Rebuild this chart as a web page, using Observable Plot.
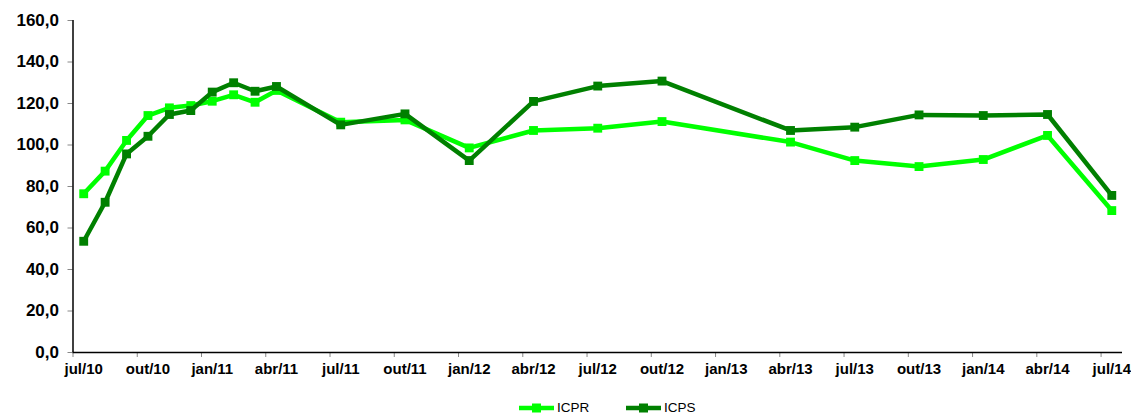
<!DOCTYPE html>
<html>
<head>
<meta charset="utf-8">
<script src="https://cdn.jsdelivr.net/npm/d3@7"></script>
<script src="https://cdn.jsdelivr.net/npm/@observablehq/plot@0.6"></script>
<style>
  html, body { margin: 0; padding: 0; background: #fff; }
  body { width: 1131px; height: 413px; overflow: hidden; font-family: "Liberation Sans", Arial, sans-serif; }
  #legend { position: relative; height: 23px; }
  #legend .item { position: absolute; top: 6px; height: 23px; display: flex; align-items: center; font-size: 13.5px; color: #000; }
</style>
</head>
<body>
<div id="chart"></div>
<div id="legend"></div>
<script>
// ---- data ----
const periods = ["2010-07","2010-08","2010-09","2010-10","2010-11","2010-12","2011-01","2011-02","2011-03","2011-04","2011-07","2011-10","2012-01","2012-04","2012-07","2012-10","2013-04","2013-07","2013-10","2014-01","2014-04","2014-07"];
const icpr = [76.5, 87.4, 102.2, 114.2, 117.9, 119.0, 121.1, 124.2, 120.6, 126.3, 111.0, 112.1, 98.6, 107.0, 108.1, 111.3, 101.4, 92.5, 89.6, 93.0, 104.6, 68.4];
const icps = [53.6, 72.4, 95.7, 104.2, 114.7, 116.6, 125.5, 130.0, 125.9, 128.2, 109.7, 115.0, 92.5, 121.0, 128.4, 130.8, 107.0, 108.6, 114.5, 114.2, 114.7, 75.7];
const xTickLabels = ["jul/10","out/10","jan/11","abr/11","jul/11","out/11","jan/12","abr/12","jul/12","out/12","jan/13","abr/13","jul/13","out/13","jan/14","abr/14","jul/14"];
const yTicks = [0, 20, 40, 60, 80, 100, 120, 140, 160];
const seriesNames = ["ICPR", "ICPS"];
const seriesColors = ["#00FF00", "#008000"];

// month index since jul/10 (category start); points sit at category centre
const monthIndex = p => { const [y, m] = p.split("-").map(Number); return (y - 2010) * 12 + (m - 7); };
const rows = [];
periods.forEach((p, i) => {
  rows.push({series: "ICPR", x: monthIndex(p) + 0.5, value: icpr[i]});
  rows.push({series: "ICPS", x: monthIndex(p) + 0.5, value: icps[i]});
});
const tickPos = xTickLabels.map((_, i) => i * 3);
const labelPos = xTickLabels.map((_, i) => i * 3 + 0.5);
const fmt = d => d.toFixed(1).replace(".", ",");

const marks = [
  Plot.axisY({ticks: yTicks, tickFormat: fmt, tickSize: 5, tickPadding: 9, stroke: "#888", fill: "#000", fontSize: 17, fontWeight: "bold", label: null}),
  Plot.axisX({ticks: tickPos, tickFormat: () => "", tickSize: 5, stroke: "#888", label: null}),
  Plot.axisX({ticks: labelPos, tickFormat: d => xTickLabels[Math.round((d - 0.5) / 3)], tickSize: 0, tickPadding: 11, fill: "#000", fontSize: 15, fontWeight: "bold", label: null}),
  Plot.ruleY([0], {stroke: "#000", strokeWidth: 1.5}),
  Plot.ruleX([0], {y1: 0, y2: 160, stroke: "#000", strokeWidth: 1.5})
];
seriesNames.forEach((name, k) => {
  const data = rows.filter(r => r.series === name);
  marks.push(Plot.line(data, {x: "x", y: "value", stroke: seriesColors[k], strokeWidth: 4.5, strokeLinejoin: "miter"}));
  marks.push(Plot.dot(data, {x: "x", y: "value", symbol: "square", r: 5, fill: seriesColors[k], stroke: "none"}));
});

const chart = Plot.plot({
  width: 1131,
  height: 390,
  marginLeft: 72.5,
  marginRight: 9,
  marginTop: 20,
  marginBottom: 38,
  x: {type: "linear", domain: [0, 49]},
  y: {domain: [0, 160]},
  style: {fontFamily: "'Liberation Sans', Arial, sans-serif", background: "#fff", color: "#000", overflow: "visible"},
  marks
});
document.getElementById("chart").appendChild(chart);

// legend
const legend = document.getElementById("legend");
const legendX = [518, 625];
seriesNames.forEach((name, k) => {
  const item = document.createElement("div");
  item.className = "item";
  item.style.left = legendX[k] + "px";
  item.innerHTML = `<svg width="37" height="12" style="margin-right:2px"><line x1="1" x2="36" y1="6" y2="6" stroke="${seriesColors[k]}" stroke-width="4.5"/><rect x="14" y="1.5" width="9" height="9" fill="${seriesColors[k]}"/></svg><span>${name}</span>`;
  legend.appendChild(item);
});
</script>
</body>
</html>
